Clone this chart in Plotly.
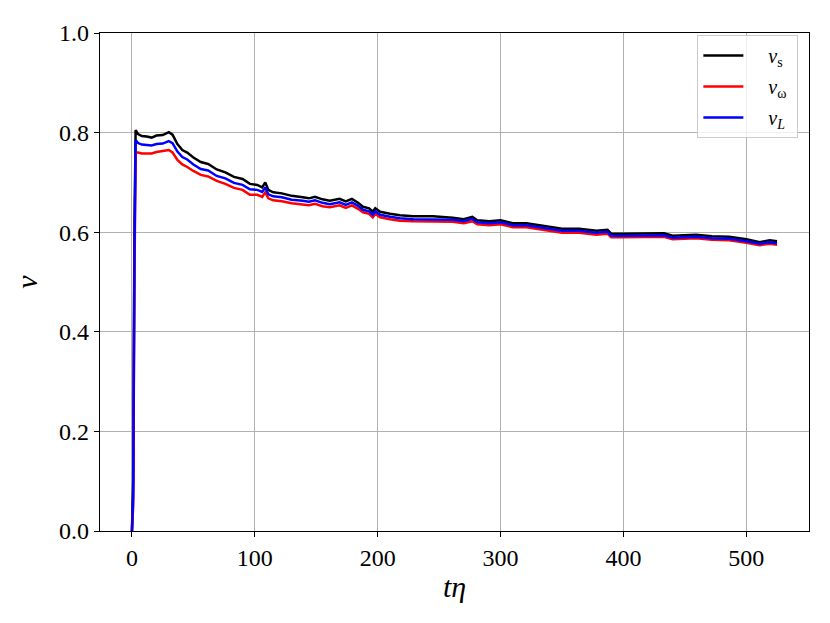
import plotly.graph_objects as go

# time axis (t*eta)
t = [0, 1, 2, 3, 5, 8, 12, 16, 20, 25, 30, 33, 37, 41, 45, 50, 56, 62, 69, 76,
     83, 90, 96, 102, 106, 108.5, 111, 115, 122, 130, 139, 144, 149, 155, 161,
     169, 174, 179, 184, 188, 193, 196, 198, 202, 210, 218, 229, 245, 261, 270,
     277, 281, 291, 300, 310, 321, 337, 350, 364, 378, 387, 390, 399, 419, 433,
     440, 459, 472, 486, 500, 511, 519, 525]

v_s = [0.0, 0.10, 0.60, 0.805, 0.797, 0.793, 0.792, 0.790, 0.794, 0.795, 0.801,
       0.796, 0.777, 0.765, 0.760, 0.750, 0.741, 0.737, 0.726, 0.720, 0.711,
       0.707, 0.697, 0.695, 0.690, 0.700, 0.685, 0.680, 0.678, 0.673, 0.670,
       0.668, 0.671, 0.666, 0.663, 0.667, 0.662, 0.667, 0.659, 0.651, 0.648,
       0.641, 0.648, 0.641, 0.637, 0.634, 0.632, 0.632, 0.629, 0.626, 0.631,
       0.624, 0.622, 0.624, 0.618, 0.618, 0.612, 0.607, 0.607, 0.603, 0.605,
       0.597, 0.597, 0.597, 0.598, 0.593, 0.595, 0.592, 0.591, 0.586, 0.580,
       0.584, 0.582]

v_omega = [0.0, 0.05, 0.50, 0.760, 0.760, 0.758, 0.758, 0.758, 0.761, 0.763,
           0.765, 0.760, 0.745, 0.736, 0.731, 0.723, 0.715, 0.712, 0.703, 0.697,
           0.689, 0.685, 0.675, 0.675, 0.671, 0.680, 0.668, 0.664, 0.662, 0.658,
           0.656, 0.654, 0.657, 0.652, 0.650, 0.654, 0.649, 0.654, 0.647, 0.640,
           0.637, 0.630, 0.637, 0.630, 0.626, 0.623, 0.622, 0.622, 0.621, 0.618,
           0.622, 0.616, 0.614, 0.616, 0.610, 0.610, 0.604, 0.599, 0.599, 0.595,
           0.597, 0.590, 0.590, 0.590, 0.591, 0.586, 0.588, 0.585, 0.584, 0.579,
           0.574, 0.577, 0.575]

v_L = [0.0, 0.07, 0.55, 0.785, 0.779, 0.776, 0.775, 0.774, 0.777, 0.778, 0.783,
       0.779, 0.762, 0.751, 0.746, 0.736, 0.727, 0.724, 0.713, 0.708, 0.699,
       0.695, 0.686, 0.685, 0.681, 0.690, 0.676, 0.672, 0.670, 0.665, 0.663,
       0.661, 0.664, 0.659, 0.656, 0.660, 0.655, 0.660, 0.653, 0.645, 0.642,
       0.635, 0.642, 0.635, 0.631, 0.628, 0.626, 0.626, 0.625, 0.622, 0.627,
       0.620, 0.618, 0.620, 0.614, 0.614, 0.608, 0.603, 0.603, 0.599, 0.601,
       0.593, 0.593, 0.593, 0.594, 0.589, 0.591, 0.588, 0.587, 0.582, 0.577,
       0.580, 0.578]

x_ticks = [0, 100, 200, 300, 400, 500]
y_ticks = [0.0, 0.2, 0.4, 0.6, 0.8, 1.0]

pad = "&nbsp;&nbsp;&nbsp;&nbsp;"
series = [
    ("<i>v</i><sub>s</sub>", v_s, "black"),
    ("<i>v</i><sub>ω</sub>", v_omega, "red"),
    ("<i>v</i><sub><i>L</i></sub>", v_L, "blue"),
]

fig = go.Figure()
for name, vals, col in series:
    fig.add_trace(go.Scatter(
        x=t, y=vals, mode="lines", name=pad + name + "&nbsp;",
        legendgroup=name,
        line=dict(color=col, width=2.5)
    ))

font = "Liberation Serif, DejaVu Serif, serif"
axis_common = dict(
    showgrid=True, gridcolor="#b0b0b0", gridwidth=1,
    showline=True, linecolor="black", linewidth=1.2, mirror=True,
    ticks="outside", ticklen=5, tickcolor="black",
    tickfont=dict(family=font, size=24, color="black"),
    zeroline=False,
)

# page body has an 8px margin, so the figure is a bit smaller than the window
fig.update_layout(
    width=814, height=607,
    margin=dict(l=92, r=12, t=17, b=84),
    plot_bgcolor="white", paper_bgcolor="white",
    font=dict(family=font, color="black"),
    xaxis=dict(range=[-26, 551], tickvals=x_ticks,
               title=dict(text="<i>tη</i>", font=dict(family=font, size=30), standoff=6),
               **axis_common),
    yaxis=dict(range=[0, 1], tickvals=y_ticks, tickformat=".1f",
               title=dict(text="<i>v</i>", font=dict(family=font, size=30), standoff=12),
               **axis_common),
    legend=dict(x=0.985, y=0.996, xanchor="right", yanchor="top",
                bgcolor="rgba(255,255,255,0.8)", bordercolor="#cccccc", borderwidth=1,
                font=dict(family=font, size=20), tracegroupgap=2,
                itemwidth=40),
)

fig.write_html("out.html")
